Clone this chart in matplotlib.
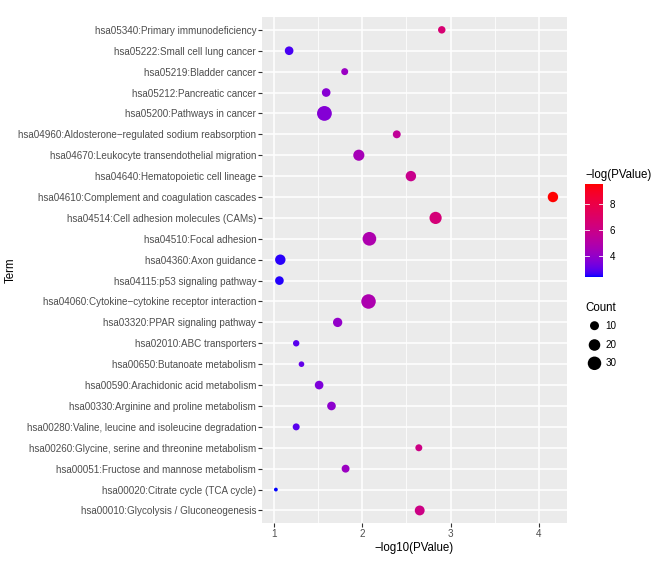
import numpy as np
import matplotlib
matplotlib.use('Agg')
import matplotlib.pyplot as plt
from matplotlib.colors import ListedColormap, Normalize

plt.rcParams['font.family'] = ['Liberation Sans', 'DejaVu Sans']

# KEGG terms, top to bottom as shown
terms = [
    'hsa05340:Primary immunodeficiency',
    'hsa05222:Small cell lung cancer',
    'hsa05219:Bladder cancer',
    'hsa05212:Pancreatic cancer',
    'hsa05200:Pathways in cancer',
    'hsa04960:Aldosterone\u2212regulated sodium reabsorption',
    'hsa04670:Leukocyte transendothelial migration',
    'hsa04640:Hematopoietic cell lineage',
    'hsa04610:Complement and coagulation cascades',
    'hsa04514:Cell adhesion molecules (CAMs)',
    'hsa04510:Focal adhesion',
    'hsa04360:Axon guidance',
    'hsa04115:p53 signaling pathway',
    'hsa04060:Cytokine\u2212cytokine receptor interaction',
    'hsa03320:PPAR signaling pathway',
    'hsa02010:ABC transporters',
    'hsa00650:Butanoate metabolism',
    'hsa00590:Arachidonic acid metabolism',
    'hsa00330:Arginine and proline metabolism',
    'hsa00280:Valine, leucine and isoleucine degradation',
    'hsa00260:Glycine, serine and threonine metabolism',
    'hsa00051:Fructose and mannose metabolism',
    'hsa00020:Citrate cycle (TCA cycle)',
    'hsa00010:Glycolysis / Gluconeogenesis',
]
neg_log10_p = [2.90, 1.17, 1.80, 1.59, 1.57, 2.39, 1.96, 2.55, 4.16, 2.83,
               2.08, 1.07, 1.06, 2.07, 1.72, 1.25, 1.31, 1.51, 1.65, 1.25,
               2.64, 1.81, 1.02, 2.65]
counts = [6, 9, 5, 9, 38, 7, 18, 15, 15, 23,
          31, 15, 9, 36, 11, 4, 3, 9, 9, 5,
          5, 7, 2, 13]
count_breaks = [10, 20, 30]
color_ticks = [4, 6, 8]

W, H, DPI = 662, 561, 100


# ggplot-like gradient: interpolate blue -> red in Lab space
def _srgb_to_lab(rgb):
    rgb = np.asarray(rgb, float)
    lin = np.where(rgb <= 0.04045, rgb / 12.92, ((rgb + 0.055) / 1.055) ** 2.4)
    M = np.array([[0.4124, 0.3576, 0.1805],
                  [0.2126, 0.7152, 0.0722],
                  [0.0193, 0.1192, 0.9505]])
    xyz = M @ lin / np.array([0.95047, 1.0, 1.08883])
    f = np.where(xyz > 0.008856, np.cbrt(xyz), 7.787 * xyz + 16 / 116)
    return np.array([116 * f[1] - 16, 500 * (f[0] - f[1]), 200 * (f[1] - f[2])])


def _lab_to_srgb(lab):
    L, a, b = lab
    fy = (L + 16) / 116
    fx = fy + a / 500
    fz = fy - b / 200
    f = np.array([fx, fy, fz])
    xyz = np.where(f ** 3 > 0.008856, f ** 3, (f - 16 / 116) / 7.787)
    xyz = xyz * np.array([0.95047, 1.0, 1.08883])
    Minv = np.array([[3.2406, -1.5372, -0.4986],
                     [-0.9689, 1.8758, 0.0415],
                     [0.0557, -0.2040, 1.0570]])
    lin = Minv @ xyz
    lin = np.clip(lin, 0, 1)
    rgb = np.where(lin <= 0.0031308, 12.92 * lin, 1.055 * lin ** (1 / 2.4) - 0.055)
    return np.clip(rgb, 0, 1)


lab_lo = _srgb_to_lab([0, 0, 1])
lab_hi = _srgb_to_lab([1, 0, 0])
cmap = ListedColormap([_lab_to_srgb(lab_lo + (lab_hi - lab_lo) * t)
                       for t in np.linspace(0, 1, 256)])


def point_diam_px(c, cmin, cmax):
    size = 1 + 5 * np.sqrt((np.asarray(c, float) - cmin) / (cmax - cmin))
    return 2.2 * size + 1.6


x = np.array(neg_log10_p)
cnt = np.array(counts)
neg_ln_p = x * np.log(10)
n = len(terms)
y = np.arange(n)[::-1]

cmin, cmax = cnt.min(), cnt.max()
s = (point_diam_px(cnt, cmin, cmax) * 72 / DPI) ** 2
norm = Normalize(neg_ln_p.min(), neg_ln_p.max())

fig = plt.figure(figsize=(W / DPI, H / DPI), dpi=DPI)
ax_l, ax_r, ax_t, ax_b = 262.3, 566.7, 17.3, 523
ax = fig.add_axes([ax_l / W, 1 - ax_b / H, (ax_r - ax_l) / W, (ax_b - ax_t) / H])
ax.set_facecolor('#EBEBEB')
for sp in ax.spines.values():
    sp.set_visible(False)

ax.set_xlim(0.866, 4.316)
ax.set_ylim(-0.6, n - 0.4)
ax.set_xticks([1, 2, 3, 4])
ax.set_xticks([1.5, 2.5, 3.5], minor=True)
ax.set_yticks(y)
ax.set_yticklabels(terms)
ax.grid(which='major', color='white', linewidth=1.1)
ax.grid(which='minor', axis='x', color='white', linewidth=0.55)
ax.set_axisbelow(True)
ax.tick_params(which='major', length=2.6, width=0.8, color='#333333',
               labelcolor='#4D4D4D', labelsize=7.1, pad=1.8)
ax.tick_params(which='minor', length=0)

ax.scatter(x, y, s=s, c=neg_ln_p, cmap=cmap, norm=norm, linewidths=0, zorder=3)

ax.set_xlabel('\u2212log10(PValue)', fontsize=8.3, labelpad=2)
ax.set_ylabel('Term', fontsize=8.3)
ax.yaxis.set_label_coords((16.5 - ax_l) / (ax_r - ax_l), 0.5)

# colour bar legend
cax = fig.add_axes([585 / W, 1 - 277 / H, 18 / W, 93 / H])
grad = np.linspace(norm.vmin, norm.vmax, 200).reshape(-1, 1)
cax.imshow(grad, aspect='auto', origin='lower', cmap=cmap, norm=norm,
           extent=[0, 1, norm.vmin, norm.vmax])
cax.set_xticks([])
cax.set_yticks(color_ticks)
cax.yaxis.set_ticks_position('right')
cax.tick_params(axis='y', length=0, labelsize=7.1, pad=5, labelcolor='black')
for t in color_ticks:
    cax.plot([0, 0.2], [t, t], color='white', lw=0.6)
    cax.plot([0.8, 1], [t, t], color='white', lw=0.6)
cax.set_xlim(0, 1)
cax.set_ylim(norm.vmin, norm.vmax)
for sp in cax.spines.values():
    sp.set_visible(False)
fig.text(585 / W, 1 - 175 / H, '\u2212log(PValue)', fontsize=8.3, va='center', ha='left')

# size legend
lax = fig.add_axes([0, 0, 1, 1])
lax.set_xlim(0, W)
lax.set_ylim(H, 0)
lax.axis('off')
lax.set_zorder(5)
fig.text(585 / W, 1 - 308 / H, 'Count', fontsize=8.3, va='center', ha='left')
key_y = [325.7, 345, 363.3]
ks = (point_diam_px(count_breaks, cmin, cmax) * 72 / DPI) ** 2
lax.scatter([594.5] * len(count_breaks), key_y, s=ks, color='black', linewidths=0)
for yy, b in zip(key_y, count_breaks):
    lax.text(605.5, yy, str(b), fontsize=7.1, va='center', ha='left')

fig.savefig('out.png', dpi=DPI, facecolor='white')
